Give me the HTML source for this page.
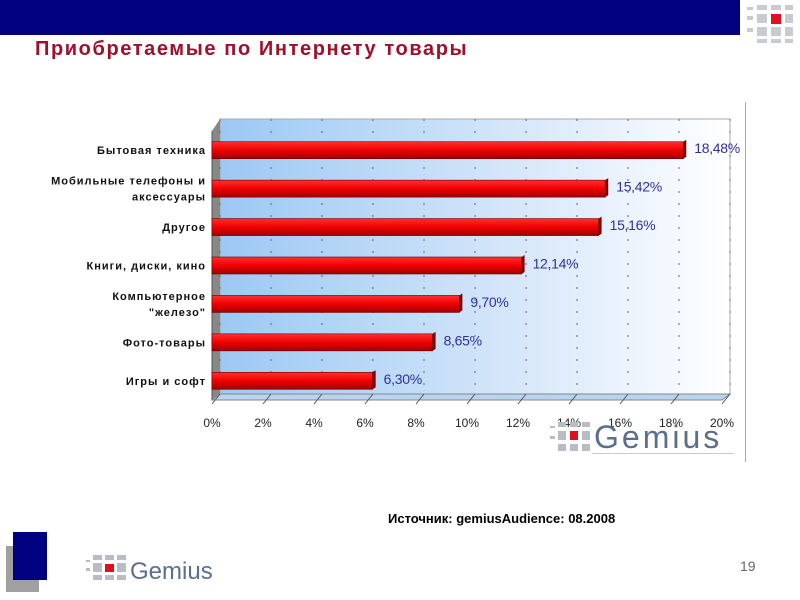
<!DOCTYPE html>
<html><head><meta charset="utf-8"><style>
body{margin:0;width:800px;height:600px;position:relative;background:#fff;font-family:"Liberation Sans","DejaVu Sans",sans-serif;overflow:hidden}
.abs{position:absolute}
</style></head><body>
<div class="abs" style="left:0;top:0;width:740px;height:35px;background:#000080"></div>
<svg class="abs" style="left:745px;top:2px" width="50" height="42">
<g fill="#c8ccd2"><rect x="2" y="5" width="6" height="3"/><rect x="12" y="3" width="10" height="5"/><rect x="26" y="3" width="10" height="5"/><rect x="40" y="3" width="8" height="5"/>
<rect x="2" y="14" width="6" height="4"/><rect x="12" y="12" width="10" height="9"/><rect x="40" y="12" width="8" height="9"/>
<rect x="2" y="26" width="6" height="4"/><rect x="12" y="25" width="10" height="9"/><rect x="26" y="25" width="10" height="9"/><rect x="40" y="25" width="8" height="9"/>
<rect x="12" y="37" width="10" height="4"/><rect x="26" y="37" width="10" height="4"/><rect x="40" y="37" width="8" height="4"/></g>
<rect x="26" y="12" width="10" height="10" fill="#e01020"/></svg>
<div class="abs" style="left:35px;top:38px;font-size:20px;font-weight:bold;color:#a0102a;letter-spacing:1.6px">Приобретаемые по Интернету товары</div>
<div class="abs" style="left:745px;top:102px;width:1px;height:360px;background:#aaa"></div>

<svg class="abs" id="chart" style="left:0;top:0" width="800" height="600">
<defs>
<linearGradient id="bg" x1="0" x2="1" y1="0" y2="0"><stop offset="0" stop-color="#9cc8f4"/><stop offset="0.6" stop-color="#d8e8fa"/><stop offset="1" stop-color="#ffffff"/></linearGradient>
<linearGradient id="bar" x1="0" x2="0" y1="0" y2="1"><stop offset="0" stop-color="#ff3030"/><stop offset="0.5" stop-color="#f00000"/><stop offset="1" stop-color="#a00000"/></linearGradient>
</defs>
<g id="g"></g>
</svg>

<svg class="abs" style="left:540px;top:416px" width="200" height="44">
<g fill="#b8bcc4"><rect x="10" y="10" width="5" height="2"/><rect x="18" y="6" width="8" height="5"/><rect x="30" y="6" width="8" height="5"/><rect x="42" y="6" width="8" height="5"/>
<rect x="10" y="20" width="5" height="3"/><rect x="18" y="15" width="8" height="9"/><rect x="42" y="15" width="8" height="9"/>
<rect x="18" y="28" width="8" height="7"/><rect x="30" y="28" width="8" height="7"/><rect x="42" y="28" width="8" height="7"/></g>
<rect x="30" y="15" width="8" height="9" fill="#e01020"/>
<text x="54" y="32" font-size="32" fill="#5a6e8e" font-family="Liberation Sans" letter-spacing="3">Gemius</text>
<rect x="52" y="37" width="142" height="1" fill="#ccc"/></svg>

<div class="abs" style="left:388px;top:511px;font-size:13px;font-weight:bold;color:#000">Источник: gemiusAudience: 08.2008</div>
<div class="abs" style="left:6px;top:546px;width:33px;height:46px;background:#a0a0a0"></div>
<div class="abs" style="left:13px;top:532px;width:34px;height:48px;background:#000080"></div>
<svg class="abs" style="left:84px;top:550px" width="140" height="36">
<g fill="#b8bcc4"><rect x="2" y="10" width="4" height="2"/><rect x="9" y="5" width="9" height="5"/><rect x="21" y="5" width="9" height="5"/><rect x="33" y="5" width="9" height="5"/>
<rect x="2" y="18" width="4" height="3"/><rect x="9" y="13" width="9" height="9"/><rect x="33" y="13" width="9" height="9"/><rect x="9" y="25" width="9" height="5"/><rect x="21" y="25" width="9" height="5"/><rect x="33" y="25" width="9" height="5"/></g>
<rect x="21" y="14" width="9" height="8" fill="#e01020"/>
<text x="46" y="29" font-size="24" fill="#5a6e8e" font-family="Liberation Sans">Gemius</text></svg>
<div class="abs" style="left:740px;top:558px;font-size:14px;color:#666">19</div>

<script>
const categories=[["Бытовая техника"],["Мобильные телефоны и","аксессуары"],["Другое"],["Книги, диски, кино"],["Компьютерное","\"железо\""],["Фото-товары"],["Игры и софт"]];
const values=[18.48,15.42,15.16,12.14,9.70,8.65,6.30];
const valueLabels=["18,48%","15,42%","15,16%","12,14%","9,70%","8,65%","6,30%"];
const ticks=[0,2,4,6,8,10,12,14,16,18,20];
const tickLabels=["0%","2%","4%","6%","8%","10%","12%","14%","16%","18%","20%"];
const NS="http://www.w3.org/2000/svg";
const g=document.getElementById('g');
const X0=212,X1=722,YT=131,YB=400,DX=8,DY=-6;
const x=v=>X0+(v-0)/(20-0)*(X1-X0);
const rowH=(YB-YT)/categories.length;
const yc=i=>YT+rowH*(i+0.5);
function el(t,a,p){const e=document.createElementNS(NS,t);for(const k in a)e.setAttribute(k,a[k]);(p||g).appendChild(e);return e;}
const wall=el('polygon',{points:`${X0+DX},${YT+DY-6} ${X1+DX},${YT+DY-6} ${X1+DX},${YB+DY} ${X0+DX},${YB+DY}`,fill:'url(#bg)',stroke:'#aaa'});


const floor=el('polygon',{points:`${X0},${YB} ${X1},${YB} ${X1+DX},${YB+DY} ${X0+DX},${YB+DY}`,fill:'#b8d4f0',stroke:'#888'});


const side=el('polygon',{points:`${X0},${YT-DY-6} ${X0+DX},${YT+DY-6} ${X0+DX},${YB+DY} ${X0},${YB}`,fill:'#888'});


ticks.forEach((t,i)=>{
 const gl=el('line',{x1:x(t)+DX,x2:x(t)+DX,y1:YT+DY-6,y2:YB+DY,stroke:'#666','stroke-dasharray':'2,10','stroke-width':1});
 
 
 const tl=el('line',{x1:x(t),x2:x(t)+DX,y1:YB+4,y2:YB+DY,stroke:'#555'});
 
 
 const tx=el('text',{x:x(t),y:YB+27,'text-anchor':'middle','font-size':12,fill:'#222','font-family':'Liberation Sans'});
 tx.textContent=tickLabels[i];
 
 
});
const ax=el('line',{x1:X0,x2:X0,y1:YT-DY-6,y2:YB,stroke:'#555'});


values.forEach((v,i)=>{
 const y=yc(i),h=17;
 const r=el('rect',{x:X0,y:y-h/2,width:x(v)-X0,height:h,fill:'url(#bar)',stroke:'#600',"stroke-width":0.6});
 
 
 const cap=el('polygon',{points:`${x(v)},${y-h/2} ${x(v)+3},${y-h/2-2} ${x(v)+3},${y+h/2-2} ${x(v)},${y+h/2}`,fill:'#700'});
 
 
 const vl=el('text',{x:x(v)+11,y:y+3,'font-size':14,fill:'#30309a','font-family':'Liberation Sans','letter-spacing':'-0.3'});
 vl.textContent=valueLabels[i];
 
 
 const lines=categories[i];
 lines.forEach((s,j)=>{
  const ty=y+4+(j-(lines.length-1)/2)*16;
  const t=el('text',{x:206,y:ty,'text-anchor':'end','font-size':11,'font-weight':'bold',fill:'#111','font-family':'Liberation Sans','letter-spacing':'1'});
  t.textContent=s;
  
  
 });
});
</script>
</body></html>
